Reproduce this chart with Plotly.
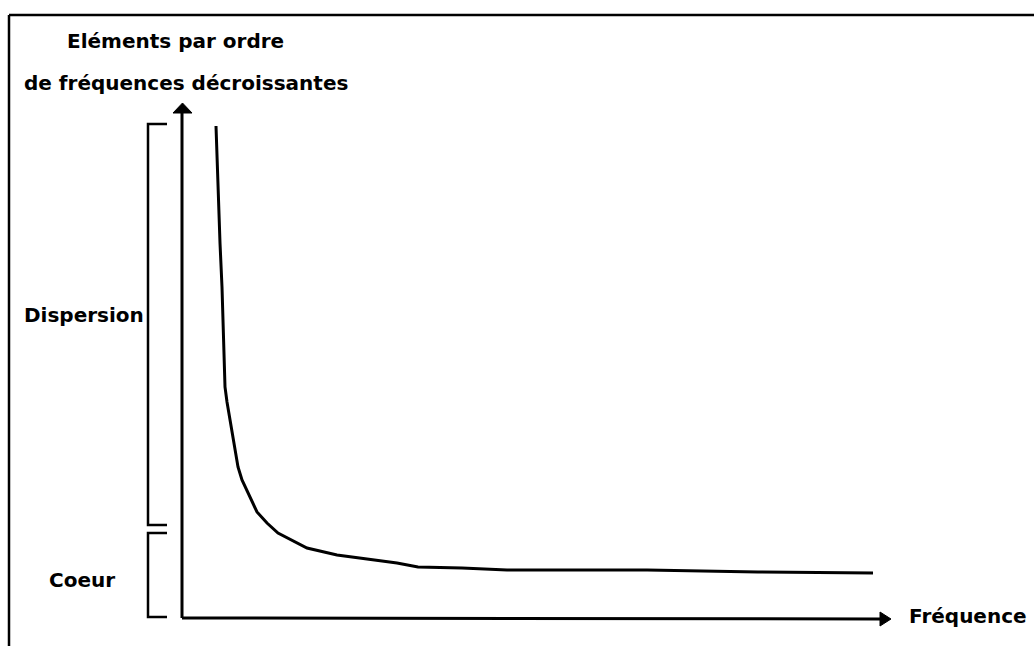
import plotly.graph_objects as go

# --- data (frequency vs. elements ranked by decreasing frequency) ---
freq = [34, 35, 36, 38, 40, 41, 43, 45, 48, 53, 56, 60, 68, 75, 85, 96, 125, 155, 185, 215, 236, 280, 325, 465, 576, 691]
rank = [492, 463, 423, 375, 331, 288, 231, 216, 198, 165, 151, 138, 121, 106, 95, 85, 70, 63, 59, 55, 51, 50, 48, 48, 46, 45]

zone_labels = ["Dispersion", "Coeur"]
zone_low = [93, 1]
zone_high = [494, 85]

y_title_lines = ["Eléments par ordre", "de fréquences décroissantes"]
x_title = "Fréquence"

# --- geometry (axis units) ---
X0, X1 = -182, 852
Y0, Y1 = -28, 618
FONT = dict(family="DejaVu Sans", size=20, color="black")

fig = go.Figure()
fig.add_trace(go.Scatter(x=freq, y=rank, mode="lines",
                         line=dict(color="black", width=3), hoverinfo="skip",
                         showlegend=False))

shapes = []
# axes
shapes.append(dict(type="line", x0=0, y0=0, x1=0, y1=505, line=dict(color="black", width=3)))
shapes.append(dict(type="path", path="M -9 505 L 10 505 L 0.5 515 Z",
                   fillcolor="black", line=dict(color="black", width=1)))
shapes.append(dict(type="line", x0=0, y0=0, x1=698, y1=-1, line=dict(color="black", width=3)))
shapes.append(dict(type="path", path="M 698 6 L 698 -8 L 709 -1 Z",
                   fillcolor="black", line=dict(color="black", width=1)))

# brackets
bx, tick = -34, 19
for lo, hi in zip(zone_low, zone_high):
    shapes.append(dict(type="path",
                       path=f"M {bx+tick} {hi} L {bx} {hi} L {bx} {lo} L {bx+tick} {lo}",
                       line=dict(color="black", width=2.5)))

# frame (top and left)
shapes.append(dict(type="line", x0=-173, y0=603, x1=X1, y1=603, line=dict(color="black", width=2.5)))
shapes.append(dict(type="line", x0=-173, y0=603, x1=-173, y1=Y0, line=dict(color="black", width=2.5)))

annotations = []
annotations.append(dict(x=-117, y=577, text=f"<b>{y_title_lines[0]}</b>", showarrow=False,
                        xanchor="left", yanchor="middle", font=FONT))
annotations.append(dict(x=-160, y=535, text=f"<b>{y_title_lines[1]}</b>", showarrow=False,
                        xanchor="left", yanchor="middle", font=FONT))
label_pos = [(-160, 303), (-135, 38)]
for lab, (lx, ly) in zip(zone_labels, label_pos):
    annotations.append(dict(x=lx, y=ly, text=f"<b>{lab}</b>", showarrow=False,
                            xanchor="left", yanchor="middle", font=FONT))
annotations.append(dict(x=725, y=2, text=f"<b>{x_title}</b>", showarrow=False,
                        xanchor="left", yanchor="middle", font=FONT))

fig.update_layout(
    width=1034, height=646,
    margin=dict(l=0, r=0, t=0, b=0),
    paper_bgcolor="white", plot_bgcolor="white",
    xaxis=dict(range=[X0, X1], visible=False, fixedrange=True),
    yaxis=dict(range=[Y0, Y1], visible=False, fixedrange=True),
    shapes=shapes, annotations=annotations, showlegend=False,
)

fig.write_html("out.html", config={"displayModeBar": False},
               post_script="document.body.style.margin='0';document.body.style.overflow='hidden';")
